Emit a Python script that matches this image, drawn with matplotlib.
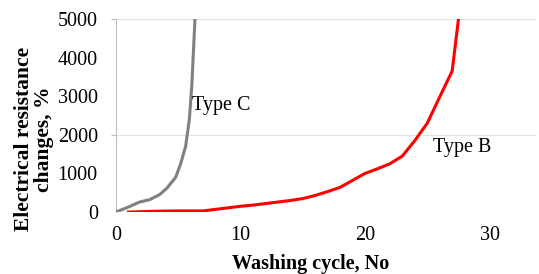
import matplotlib
matplotlib.use('Agg')
import matplotlib.pyplot as plt

plt.rcParams['font.family'] = ['Liberation Serif', 'DejaVu Serif']

# Type C (grey)
cycles_c = [0, 1.0, 1.9, 2.7, 3.5, 4.1, 4.8, 5.2, 5.6, 5.9, 6.1, 6.35, 6.45]
resist_c = [0, 130, 260, 320, 450, 620, 900, 1250, 1700, 2400, 3300, 5000, 6000]

# Type B (red)
cycles_b = [1, 2, 3, 4, 5, 6, 7, 8, 9, 10, 11, 12, 13, 14, 15, 16, 17, 18,
            19, 20, 21, 22, 23, 24, 25, 26, 27, 28]
resist_b = [0, 10, 20, 25, 30, 30, 30, 70, 110, 150, 180, 220, 260, 300, 350,
            430, 530, 640, 820, 1000, 1120, 1250, 1450, 1850, 2300, 2980, 3650,
            6300]

ytick_vals = [0, 1000, 2000, 3000, 4000, 5000]
xtick_vals = [0, 10, 20, 30]
grid_vals = [2000, 5000]

fs = 14.5

fig = plt.figure(figsize=(5.39, 2.74), dpi=100)
ax = fig.add_axes([0.215, 0.226, 0.781, 0.705])

for g in grid_vals:
    ax.axhline(g, color='#e3e3e3', lw=0.8, zorder=0)

ax.plot(cycles_c, resist_c, color='#808080', lw=2.2, clip_on=True, zorder=3)
ax.plot(cycles_b, resist_b, color='#ff0000', lw=2.2, clip_on=True, zorder=3)

ax.set_xlim(0, 33.8)
ax.set_ylim(0, 5000)

# labels every 1000, tick marks only where the grid lines are
ax.yaxis.remove_overlapping_locs = False
ax.set_yticks(ytick_vals)
ax.set_yticklabels([str(v) for v in ytick_vals])
ax.tick_params(axis='y', which='major', length=0, pad=13, labelsize=fs)
ax.set_yticks(grid_vals, minor=True)
ax.tick_params(axis='y', which='minor', length=3.6, color='#bfbfbf', width=0.8)

ax.set_xticks(xtick_vals)
ax.set_xticklabels([str(v) for v in xtick_vals])
ax.tick_params(axis='x', length=0, pad=10, labelsize=fs)

for s in ['top', 'right', 'bottom']:
    ax.spines[s].set_visible(False)
ax.spines['left'].set_color('#bfbfbf')
ax.spines['left'].set_linewidth(0.8)

ax.set_xlabel('Washing cycle, No', fontsize=fs, fontweight='bold')
ax.xaxis.set_label_coords(0.463, -0.215)
ax.set_ylabel('Electrical resistance\nchanges, %', fontsize=15.5,
              fontweight='bold', linespacing=1.0)
ax.yaxis.set_label_coords(-0.146, 0.378)

ax.text(6.1, 2770, 'Type C', fontsize=fs, va='center', ha='left')
ax.text(25.5, 1680, 'Type B', fontsize=fs, va='center', ha='left')

fig.savefig('out.png', dpi=100)
